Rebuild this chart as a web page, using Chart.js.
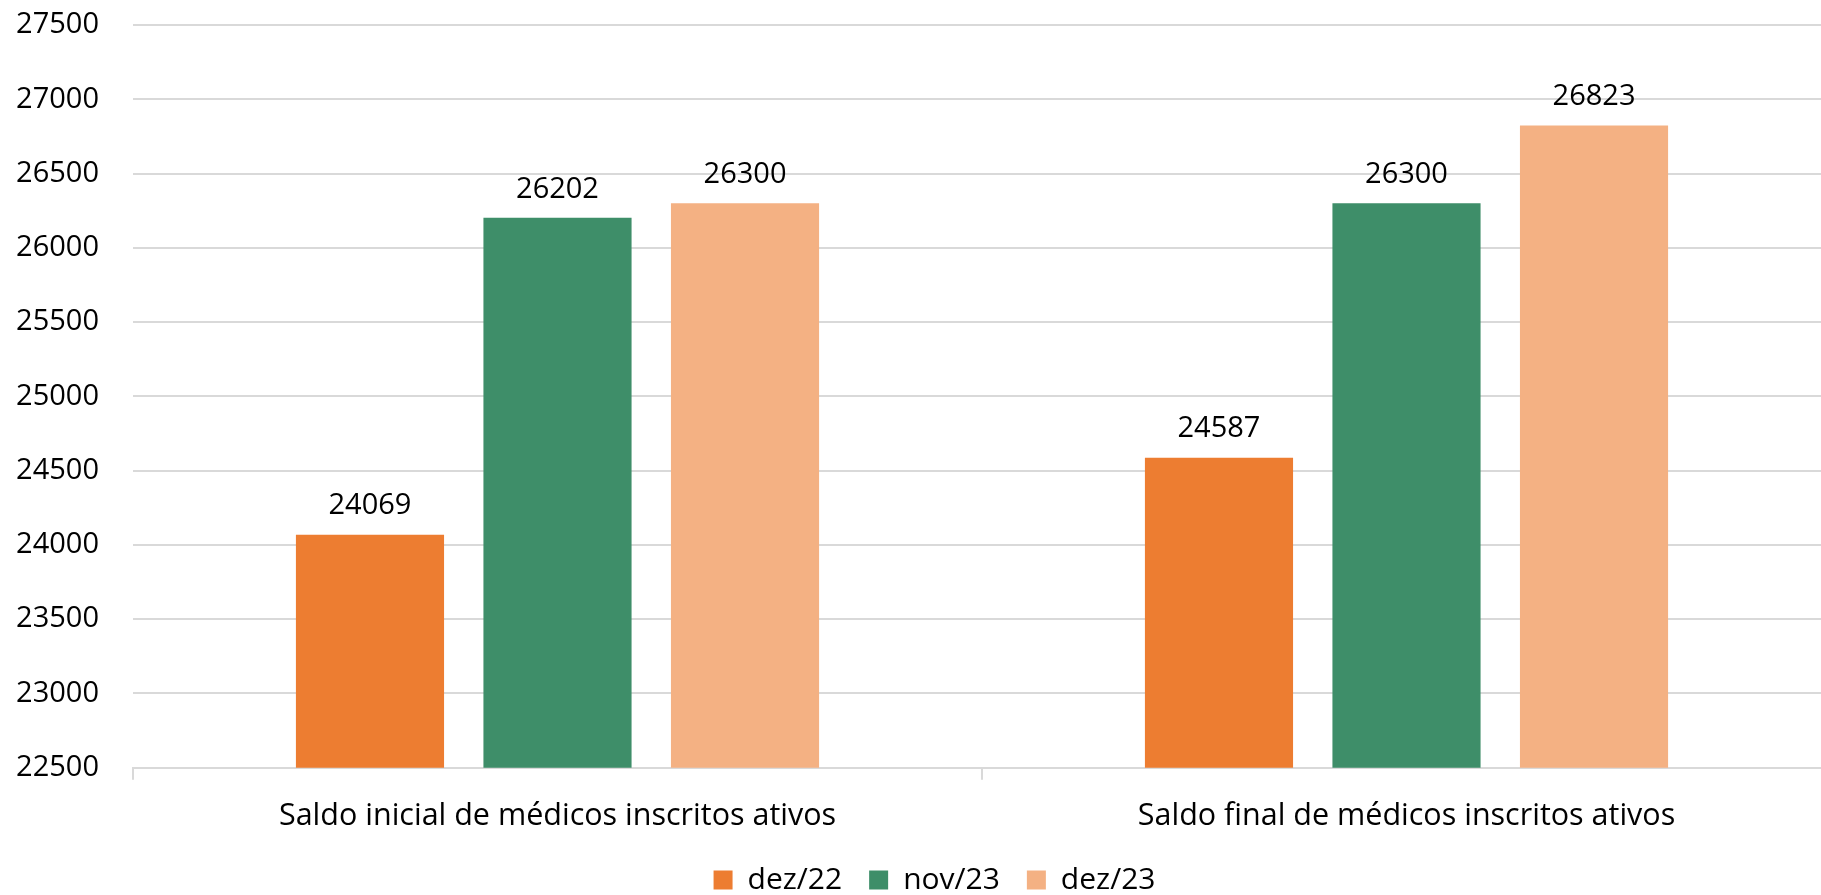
<!DOCTYPE html>
<html>
<head>
<meta charset="utf-8">
<script src="https://cdn.jsdelivr.net/npm/chart.js@4.4.1/dist/chart.umd.min.js"></script>
<style>
  html, body { margin: 0; padding: 0; background: #ffffff; overflow: hidden; }
  #wrap { width: 1869px; height: 895px; }
</style>
</head>
<body>
<div id="wrap"><canvas id="c" width="1869" height="895"></canvas></div>
<script>
const categories = ['Saldo inicial de médicos inscritos ativos', 'Saldo final de médicos inscritos ativos'];
const seriesNames = ['dez/22', 'nov/23', 'dez/23'];
const dez22 = [24069, 24587];
const nov23 = [26202, 26300];
const dez23 = [26300, 26823];
const yMin = 22500, yMax = 27500, yStep = 500;

const colors = ['#ED7D31', '#3E8E69', '#F4B183'];
const FONT = "'Open Sans', 'Noto Sans', sans-serif";
const NUM_SIZE = 29;
const TEXT_SIZE = 30.5;
const LEGEND_SIZE = 30;

const valueLabels = {
  id: 'valueLabels',
  afterDatasetsDraw(chart) {
    const ctx = chart.ctx;
    ctx.save();
    ctx.font = NUM_SIZE + 'px ' + FONT;
    ctx.fillStyle = '#000000';
    ctx.textAlign = 'center';
    ctx.textBaseline = 'middle';
    chart.data.datasets.forEach((ds, i) => {
      const meta = chart.getDatasetMeta(i);
      meta.data.forEach((bar, j) => {
        ctx.fillText(String(ds.data[j]), bar.x, bar.y - 28.5);
      });
    });
    ctx.restore();
  }
};

const legendShift = {
  id: 'legendShift',
  afterLayout(chart) {
    const lg = chart.legend;
    if (!lg) return;
    const dx = 19, dy = 10;
    lg.left += dx; lg.right += dx;
    lg.top += dy; lg.bottom += dy;
    if (lg.adjustHitBoxes) lg.adjustHitBoxes();
  }
};

new Chart(document.getElementById('c'), {
  type: 'bar',
  data: {
    labels: categories,
    datasets: [
      { label: seriesNames[0], data: dez22, backgroundColor: colors[0] },
      { label: seriesNames[1], data: nov23, backgroundColor: colors[1] },
      { label: seriesNames[2], data: dez23, backgroundColor: colors[2] }
    ]
  },
  options: {
    responsive: false,
    animation: false,
    devicePixelRatio: 1,
    datasets: { bar: { categoryPercentage: 0.6626, barPercentage: 0.79 } },
    layout: { autoPadding: false, padding: { left: 0, right: 38, top: 25, bottom: 0 } },
    plugins: {
      tooltip: { enabled: false },
      legend: {
        position: 'bottom',
        labels: {
          font: { family: FONT, size: LEGEND_SIZE },
          color: '#000000',
          boxWidth: 19,
          boxHeight: 19,
          padding: 27
        }
      }
    },
    scales: {
      x: {
        grid: { offset: true, drawOnChartArea: false, drawTicks: true, tickLength: 12, color: '#d9d9d9', lineWidth: 2 },
        border: { display: true, color: '#d9d9d9', width: 2 },
        ticks: { font: { family: FONT, size: TEXT_SIZE }, color: '#000000', padding: 18.5, maxRotation: 0 },
        afterFit(scale) { scale.height = 60.3; scale.paddingLeft = 0; scale.paddingRight = 0; }
      },
      y: {
        min: yMin, max: yMax,
        grid: { drawTicks: false, color: '#d9d9d9', lineWidth: 2 },
        border: { display: false },
        ticks: { stepSize: yStep, font: { family: FONT, size: NUM_SIZE }, color: '#000000', padding: 34,
                 callback: (v) => String(v) },
        afterFit(scale) { scale.width = 133; scale.paddingTop = 0; scale.paddingBottom = 0; }
      }
    }
  },
  plugins: [valueLabels, legendShift]
});
</script>
</body>
</html>
